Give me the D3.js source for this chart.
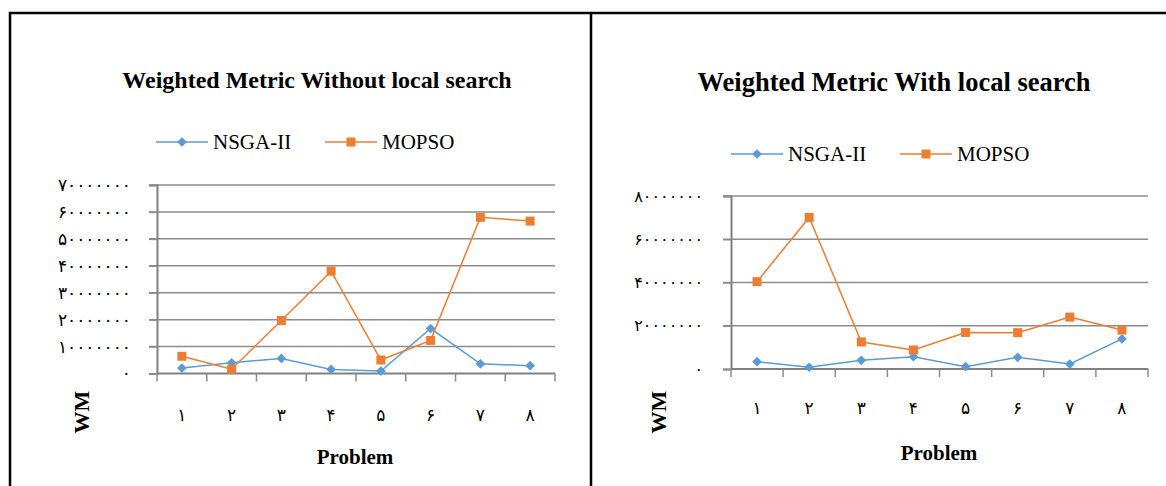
<!DOCTYPE html>
<html>
<head>
<meta charset="utf-8">
<script src="https://cdn.jsdelivr.net/npm/d3@7/dist/d3.min.js"></script>
<style>
  html, body { margin: 0; padding: 0; background: #fff; }
  svg { display: block; }
  .serif { font-family: "Liberation Serif", "Times New Roman", serif; }
  .fa { font-family: "DejaVu Sans", "Liberation Serif", serif; }
</style>
</head>
<body>
<svg id="chart" width="1166" height="486"></svg>
<script>
// Problem instances (x categories)
const problems = [1, 2, 3, 4, 5, 6, 7, 8];
const seriesNames = ["NSGA-II", "MOPSO"];

// Weighted metric without local search
const nsgaWithout  = [2000000, 4000000, 5600000, 1500000, 900000, 16700000, 3600000, 2900000];
const mopsoWithout = [6400000, 1600000, 19700000, 38000000, 5000000, 12300000, 58000000, 56600000];
const ticksWithout = [0, 10000000, 20000000, 30000000, 40000000, 50000000, 60000000, 70000000];

// Weighted metric with local search
const nsgaWith  = [3400000, 800000, 4000000, 5700000, 1100000, 5400000, 2300000, 13900000];
const mopsoWith = [40400000, 70100000, 12500000, 8800000, 16900000, 16800000, 24000000, 18000000];
const ticksWith = [0, 20000000, 40000000, 60000000, 80000000];

const titles = ["Weighted Metric Without local search", "Weighted Metric With local search"];

const colors = { "NSGA-II": "#5B9BD5", "MOPSO": "#ED7D31" };
const faDigits = "۰۱۲۳۴۵۶۷۸۹";
const toFa = v => String(v).replace(/\d/g, d => faDigits[+d]);

const svg = d3.select("#chart");

// outer frame of the two panels
const frame = svg.append("g").attr("stroke", "#000").attr("stroke-width", 2.5).attr("fill", "none");
frame.append("line").attr("x1", 9).attr("x2", 1166).attr("y1", 13).attr("y2", 13);
frame.append("line").attr("x1", 10).attr("x2", 10).attr("y1", 12).attr("y2", 486);
frame.append("line").attr("x1", 591).attr("x2", 591).attr("y1", 12).attr("y2", 486);

function marker(g, name, x, y) {
  if (name === "NSGA-II") {
    g.append("path")
      .attr("d", d3.symbol(d3.symbolDiamond2, 60)())
      .attr("transform", `translate(${x},${y})`)
      .attr("fill", colors[name]);
  } else {
    g.append("rect")
      .attr("x", x - 4.5).attr("y", y - 4.5)
      .attr("width", 9).attr("height", 9)
      .attr("fill", colors[name]);
  }
}

function drawPanel(cfg) {
  const g = svg.append("g");
  const x = d3.scaleBand().domain(problems).range([cfg.x0, cfg.x1]);
  const y = d3.scaleLinear().domain([0, d3.max(cfg.ticks)]).range([cfg.y0, cfg.y1]);

  // title
  g.append("text").attr("class", "serif")
    .attr("x", cfg.titleX).attr("y", cfg.titleY)
    .attr("text-anchor", "middle").attr("dominant-baseline", "central")
    .attr("font-size", cfg.titleSize).attr("font-weight", "bold")
    .text(cfg.title);

  // legend
  seriesNames.forEach((name, i) => {
    const lx = cfg.legendX[i];
    g.append("line")
      .attr("x1", lx).attr("x2", lx + 52)
      .attr("y1", cfg.legendY).attr("y2", cfg.legendY)
      .attr("stroke", colors[name]).attr("stroke-width", 1.5);
    marker(g, name, lx + 26, cfg.legendY);
    g.append("text").attr("class", "serif")
      .attr("x", lx + 57).attr("y", cfg.legendY)
      .attr("dominant-baseline", "central")
      .attr("font-size", 21)
      .text(name);
  });

  // horizontal gridlines
  g.append("g").selectAll("line").data(cfg.ticks.slice(1)).join("line")
    .attr("x1", cfg.x0 - 8).attr("x2", cfg.x1)
    .attr("y1", d => y(d)).attr("y2", d => y(d))
    .attr("stroke", "#8c8c8c").attr("stroke-width", 1.5);

  // y axis
  const yAxis = d3.axisLeft(y).tickValues(cfg.ticks).tickSize(8).tickPadding(cfg.yPad).tickFormat(toFa);
  const ya = g.append("g").attr("transform", `translate(${cfg.x0},0)`).call(yAxis);
  ya.select(".domain").attr("stroke", "#808080").attr("stroke-width", 2);
  ya.selectAll(".tick line").attr("stroke", "#8c8c8c").attr("stroke-width", 1.5);
  ya.selectAll(".tick text").attr("class", "fa").attr("font-size", cfg.yFont).attr("fill", "#000");

  // x axis: ticks at category boundaries, labels at centres
  const xa = g.append("g").attr("transform", `translate(0,${cfg.y0})`);
  xa.append("line").attr("x1", cfg.x0).attr("x2", cfg.x1).attr("stroke", "#808080").attr("stroke-width", 2);
  const bounds = problems.map(p => x(p)).concat([cfg.x1]);
  xa.selectAll(".bt").data(bounds).join("line").attr("class", "bt")
    .attr("x1", d => d).attr("x2", d => d).attr("y1", 0).attr("y2", 8)
    .attr("stroke", "#8c8c8c").attr("stroke-width", 1.5);
  xa.selectAll(".lab").data(problems).join("text").attr("class", "fa lab")
    .attr("x", d => x(d) + x.bandwidth() / 2).attr("y", cfg.xLabY)
    .attr("text-anchor", "middle").attr("dominant-baseline", "central")
    .attr("font-size", 17).text(toFa);

  // axis titles
  g.append("text").attr("class", "serif")
    .attr("transform", `translate(${cfg.wmX},${cfg.wmY}) rotate(-90)`)
    .attr("text-anchor", "middle").attr("dominant-baseline", "central")
    .attr("font-size", 22).attr("font-weight", "bold").text("WM");
  g.append("text").attr("class", "serif")
    .attr("x", cfg.probX).attr("y", cfg.probY)
    .attr("text-anchor", "middle").attr("dominant-baseline", "central")
    .attr("font-size", 21).attr("font-weight", "bold").text("Problem");

  // series
  const cx = d => x(d) + x.bandwidth() / 2;
  [["NSGA-II", cfg.nsga], ["MOPSO", cfg.mopso]].forEach(([name, vals]) => {
    const line = d3.line().x((d, i) => cx(problems[i])).y(d => y(d));
    g.append("path").datum(vals).attr("d", line)
      .attr("fill", "none").attr("stroke", colors[name]).attr("stroke-width", 1.5);
    vals.forEach((v, i) => marker(g, name, cx(problems[i]), y(v)));
  });
}

drawPanel({
  title: titles[0], titleX: 317, titleY: 80, titleSize: 24,
  legendX: [156, 325], legendY: 142,
  x0: 157, x1: 555, y0: 373.5, y1: 185,
  ticks: ticksWithout, yPad: 18, yFont: 17,
  nsga: nsgaWithout, mopso: mopsoWithout,
  xLabY: 415 - 373.5, wmX: 81, wmY: 412, probX: 355, probY: 457
});

drawPanel({
  title: titles[1], titleX: 894, titleY: 82, titleSize: 26.5,
  legendX: [731, 900], legendY: 154,
  x0: 731, x1: 1148, y0: 369, y1: 196,
  ticks: ticksWith, yPad: 20, yFont: 16,
  nsga: nsgaWith, mopso: mopsoWith,
  xLabY: 408 - 369, wmX: 658, wmY: 412, probX: 939, probY: 453
});
</script>
</body>
</html>
